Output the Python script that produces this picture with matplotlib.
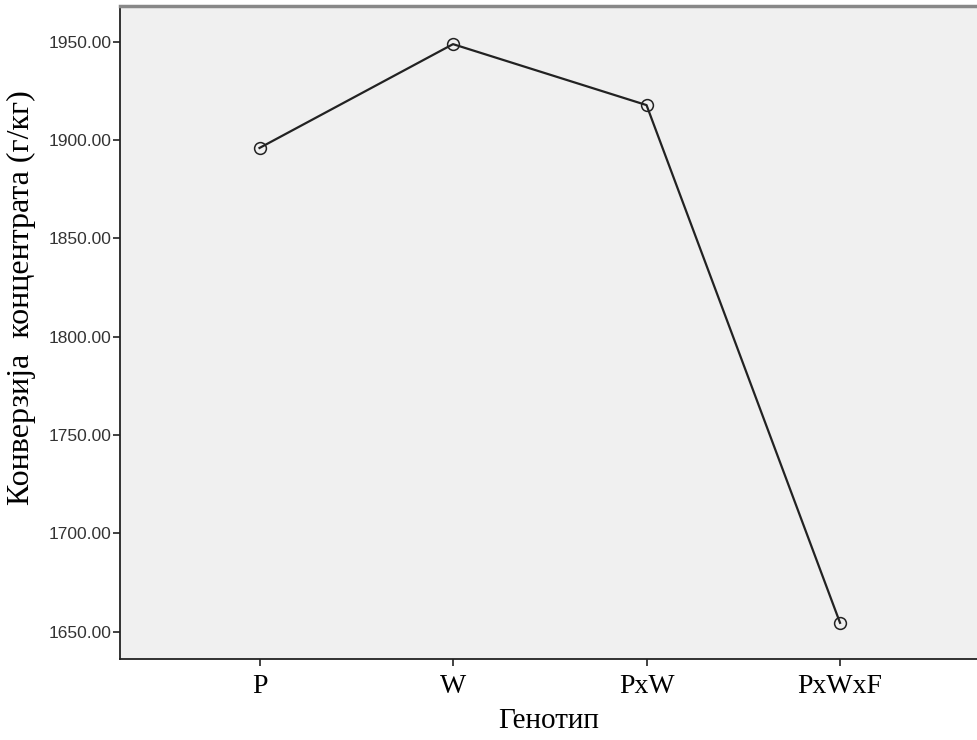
import matplotlib
matplotlib.use('Agg')
import matplotlib.pyplot as plt

# Data
genotypes = ['P', 'W', 'PxW', 'PxWxF']
conversion = [1896.0, 1948.8, 1917.8, 1654.5]
yticks = [1650, 1700, 1750, 1800, 1850, 1900, 1950]

fig = plt.figure(figsize=(9.78, 7.4), dpi=100)
ax = fig.add_axes([120 / 978, 1 - 659 / 740, 1 - 120 / 978, (659 - 6) / 740])
ax.set_facecolor('#f0f0f0')

x = list(range(len(genotypes)))
ax.plot(x, conversion, color='#222222', lw=1.6, marker='o', markersize=8.5,
        markerfacecolor='none', markeredgecolor='#222222', markeredgewidth=1.1)

ax.set_xlim(-0.721, 3.713)
ax.set_ylim(1636.1, 1968.2)

ax.set_yticks(yticks)
ax.set_yticklabels(['%.2f' % v for v in yticks], fontfamily='Liberation Sans',
                   fontsize=12.5, color='#333333')
ax.set_xticks(x)
ax.set_xticklabels(genotypes, fontfamily='Liberation Serif', fontsize=20)

ax.tick_params(axis='both', direction='out', length=5, width=1.2, color='#222222')
ax.tick_params(axis='y', pad=1)
ax.tick_params(axis='x', pad=6)

for s in ['left', 'bottom']:
    ax.spines[s].set_linewidth(1.3)
    ax.spines[s].set_color('#222222')
ax.spines['top'].set_color('#888888')
ax.spines['top'].set_linewidth(2.5)
ax.spines['right'].set_visible(False)

ax.set_xlabel('Генотип', fontfamily='Liberation Serif', fontsize=21, labelpad=6)
ax.set_ylabel('Конверзија  концентрата (г/кг)', fontfamily='Liberation Serif',
              fontsize=23)
ax.yaxis.set_label_coords(-0.098, 0.554)

fig.savefig('out.png', dpi=100)
